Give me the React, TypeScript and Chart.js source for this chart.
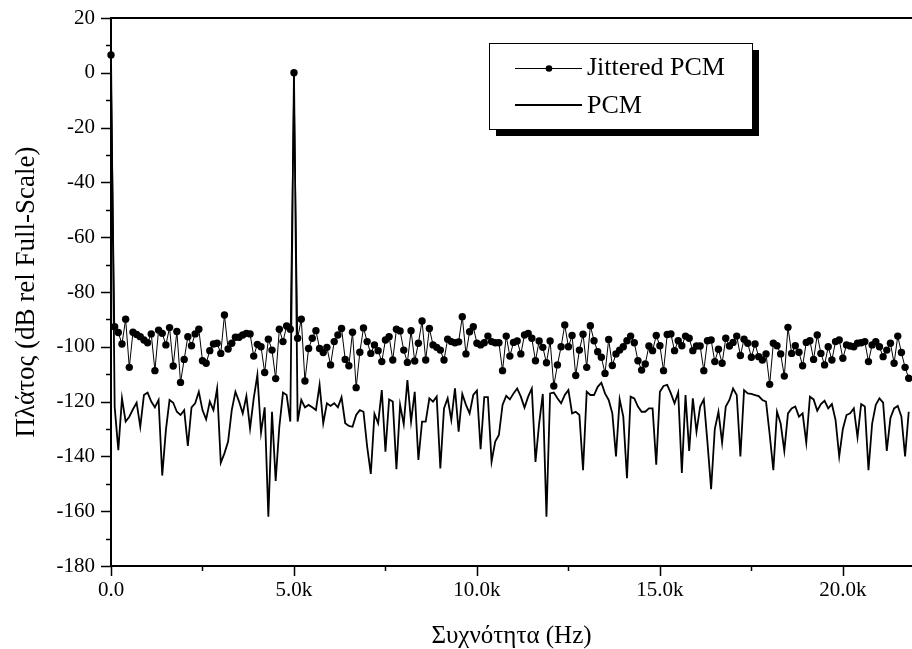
import { useEffect, useRef } from 'react';
import { Chart, registerables } from 'chart.js';

Chart.register(...registerables);

// FFT bin spacing of both spectra, in Hz
const binStepHz = 100;

// Jittered PCM spectrum, dB rel full scale, one value per bin
const jitteredPcmDb = [
  6.5,
  -92.7, -94.8, -99, -89.9, -107.5, -94.7, -95.5, -96.3, -97.5, -98.5,
  -95.3, -108.7, -93.9, -95.1, -99.3, -93, -107, -94.4, -113, -104.6,
  -96.3, -99.6, -95.3, -93.6, -105.1, -106, -101.4, -99, -98.7, -102.4,
  -88.4, -100.8, -98.7, -96.5, -96.5, -95.7, -95.1, -95.3, -103.4, -99.1,
  -100, -109.4, -97.2, -101.2, -111.6, -93.6, -98.1, -92.4, -93.6, 0,
  -96.9, -89.9, -112.5, -100.6, -96.9, -94.1, -100.6, -102.1, -100.2, -106.6,
  -98.1, -95.7, -93.3, -104.6, -106.9, -94.7, -114.9, -102, -93.1, -98.1,
  -102.4, -99.3, -101.4, -105.4, -97.5, -96.3, -104.8, -93.6, -94.2, -101.2,
  -105.7, -94.1, -105.2, -98.7, -90.6, -104.8, -93.3, -99.3, -100.2, -101.2,
  -104.8, -97.2, -98.1, -98.5, -98.2, -89, -102.6, -94.5, -92.7, -98.7,
  -99.3, -98.5, -96.1, -98.1, -98.5, -98.5, -108.7, -96.1, -103.4, -98.4,
  -97.9, -102.6, -95.7, -95.1, -96.9, -105.1, -97.9, -100.2, -105.8, -97.9,
  -114.3, -106.6, -100, -92, -100, -95.9, -110.5, -101.2, -95.4, -107.5,
  -92.3, -97.8, -101.8, -103.8, -109.7, -97.3, -106.8, -102.6, -101.2, -100,
  -97.8, -96.1, -98.5, -105.1, -108.5, -106.3, -99.7, -101.4, -95.9, -99.6,
  -108.7, -95.5, -95.3, -101.4, -97.8, -99.6, -96.1, -96.9, -101.4, -99.7,
  -99.7, -108.7, -97.8, -97.5, -105.4, -100.9, -106, -96.9, -99.7, -98.4,
  -96.1, -103.2, -97.2, -98.7, -103.8, -99, -103.6, -104.8, -102.6, -113.7,
  -98.7, -99.6, -102.6, -110.7, -92.9, -102.4, -99.6, -102, -106.9, -98.4,
  -97.8, -104.6, -95.7, -102.4, -106.6, -100, -104.8, -98.1, -97.5, -104.2,
  -99.3, -99.7, -100, -98.7, -98.5, -98.1, -105.4, -99.3, -98.1, -100,
  -103.6, -101.2, -98.7, -106, -96.1, -102.1, -107.5, -111.5,
];

// Plain PCM spectrum, dB rel full scale, one value per bin
const pcmDb = [
  6.5,
  -121.9, -137.7, -118.8, -127.3, -125.5, -122.8, -120.4, -129.2, -117.6, -116.7,
  -120, -122.1, -119.4, -147, -130.4, -119.4, -120.4, -123.7, -124.9, -123.1,
  -136.2, -122.1, -120.6, -116.4, -123.1, -126.5, -120, -123.1, -115.2, -142.3,
  -138.9, -134.6, -123.1, -116.4, -120, -124.3, -118, -129.8, -118.8, -110.3,
  -131.3, -122.1, -162, -123.7, -149, -129.2, -116.7, -117.6, -127.3, 0,
  -127.3, -119.4, -122.1, -121.2, -122.1, -123.1, -113.9, -127.9, -120.6, -121.6,
  -120.6, -122.1, -118.4, -127.9, -128.9, -129.2, -124.9, -123.1, -123.7, -136.4,
  -146.4, -124.5, -127.9, -115.8, -138.3, -119.2, -120, -144.7, -121.2, -128.2,
  -112.1, -127.3, -116.4, -141.3, -127.3, -127.3, -118.8, -120, -118.2, -144.4,
  -122.5, -118.8, -126.7, -115.2, -131, -117.2, -121.2, -124.3, -117.6, -116,
  -137.4, -118.4, -118.4, -141.9, -134.6, -132.2, -121.2, -117.9, -119.2, -117,
  -115.2, -118.2, -122.2, -118.2, -115.2, -142, -128, -117.2, -162, -117,
  -116.7, -118.8, -120.6, -117.6, -115.8, -124.3, -123.7, -124.9, -145, -116.4,
  -117.6, -117.6, -114.6, -113.1, -117, -119.4, -124.3, -140, -119.2, -125.5,
  -148, -118.2, -118.8, -121.8, -123.7, -123.7, -122.5, -122.5, -143, -116.4,
  -114.3, -113.9, -117, -120.6, -116.7, -146, -117.6, -138, -118.8, -131,
  -121.8, -119.2, -135, -152, -130, -123.7, -135, -121.8, -119.4, -115.2,
  -117.6, -140, -115.8, -117, -117.2, -117.6, -118, -119.4, -120, -132,
  -145, -123.7, -128, -138, -124.3, -122.5, -121.8, -125.5, -124.3, -135,
  -118.2, -119.2, -123.3, -120.9, -119.7, -122.5, -120.9, -126.7, -140, -130,
  -124.9, -124.3, -122.5, -133, -120.9, -121.8, -145, -128, -121.2, -118.8,
  -120.4, -138, -126, -122.5, -121.6, -125.5, -140, -123.7,
];

// Axis ticks
const xMajorTicks = [0, 5000, 10000, 15000, 20000];
const xMajorLabels = ['0.0', '5.0k', '10.0k', '15.0k', '20.0k'];
const xMinorTicks = [2500, 7500, 12500, 17500];
const yMajorTicks = [20, 0, -20, -40, -60, -80, -100, -120, -140, -160, -180];
const yMinorTicks = [10, -10, -30, -50, -70, -90, -110, -130, -150, -170];

const xRange = { min: 0, max: 21780 };
const yRange = { min: -180, max: 20 };

const xTitle = 'Συχνότητα (Hz)';
const yTitle = 'Πλάτος (dB rel Full-Scale)';
const seriesNames = ['Jittered PCM', 'PCM'];

const FONT = '"Liberation Serif", "Times New Roman", serif';

const toPoints = (values: number[]) =>
  values.map((v, i) => ({ x: i * binStepHz, y: v }));

// Axes frame, outward tick marks, axis titles and the boxed legend
const framePlugin = {
  id: 'originFrame',
  afterDraw(chart: any) {
    const { ctx, chartArea, scales } = chart;
    const { left, top, bottom } = chartArea;
    const xs = scales.x;
    const ys = scales.y;
    ctx.save();
    ctx.strokeStyle = '#000';
    ctx.fillStyle = '#000';
    ctx.lineWidth = 2;
    ctx.beginPath();
    ctx.moveTo(left, top);
    ctx.lineTo(chart.width + 2, top);
    ctx.moveTo(left, top - 1);
    ctx.lineTo(left, bottom + 1);
    ctx.moveTo(left - 1, bottom);
    ctx.lineTo(chart.width + 2, bottom);
    ctx.stroke();

    ctx.lineWidth = 1.5;
    ctx.beginPath();
    yMajorTicks.forEach((v) => {
      const y = Math.round(ys.getPixelForValue(v)) + 0.5;
      ctx.moveTo(left - 10, y);
      ctx.lineTo(left, y);
    });
    yMinorTicks.forEach((v) => {
      const y = Math.round(ys.getPixelForValue(v)) + 0.5;
      ctx.moveTo(left - 5, y);
      ctx.lineTo(left, y);
    });
    xMajorTicks.forEach((v) => {
      const x = Math.round(xs.getPixelForValue(v)) + 0.5;
      ctx.moveTo(x, bottom);
      ctx.lineTo(x, bottom + 10);
    });
    xMinorTicks.forEach((v) => {
      const x = Math.round(xs.getPixelForValue(v)) + 0.5;
      ctx.moveTo(x, bottom);
      ctx.lineTo(x, bottom + 5);
    });
    ctx.stroke();

    // axis titles
    ctx.textAlign = 'center';
    ctx.textBaseline = 'middle';
    ctx.font = `25px ${FONT}`;
    ctx.fillText(xTitle, (left + chart.width) / 2, 636);
    ctx.save();
    ctx.translate(27, (top + bottom) / 2);
    ctx.rotate(-Math.PI / 2);
    ctx.font = `27px ${FONT}`;
    ctx.fillText(yTitle, 0, 0);
    ctx.restore();

    // legend box with drop shadow
    const bx = 489, by = 43, bw = 263, bh = 86;
    ctx.fillStyle = '#000';
    ctx.fillRect(bx + 7, by + 7, bw, bh);
    ctx.fillStyle = '#fff';
    ctx.fillRect(bx, by, bw, bh);
    ctx.strokeStyle = '#000';
    ctx.lineWidth = 1;
    ctx.strokeRect(bx + 0.5, by + 0.5, bw, bh);

    ctx.fillStyle = '#000';
    ctx.beginPath();
    ctx.lineWidth = 1;
    ctx.moveTo(515, 68.5);
    ctx.lineTo(582, 68.5);
    ctx.stroke();
    ctx.beginPath();
    ctx.arc(549, 68.5, 3.3, 0, Math.PI * 2);
    ctx.fill();
    ctx.beginPath();
    ctx.lineWidth = 1.8;
    ctx.moveTo(515, 105);
    ctx.lineTo(582, 105);
    ctx.stroke();

    ctx.textAlign = 'left';
    ctx.font = `26px ${FONT}`;
    ctx.fillText(seriesNames[0], 587, 68);
    ctx.fillText(seriesNames[1], 587, 106);
    ctx.restore();
  },
};

export default function App() {
  const canvasRef = useRef<HTMLCanvasElement | null>(null);

  useEffect(() => {
    const canvas = canvasRef.current;
    if (!canvas) return;
    const chart = new Chart(canvas, {
      type: 'line',
      data: {
        datasets: [
          {
            label: seriesNames[0],
            data: toPoints(jitteredPcmDb),
            borderColor: '#000',
            backgroundColor: '#000',
            borderWidth: 1,
            pointRadius: 3.7,
            pointBorderWidth: 0,
            pointBackgroundColor: '#000',
            tension: 0,
            clip: 6,
          },
          {
            label: seriesNames[1],
            data: toPoints(pcmDb),
            borderColor: '#000',
            borderWidth: 1.8,
            pointRadius: 0,
            tension: 0,
            clip: 2,
          },
        ],
      },
      options: {
        responsive: false,
        animation: false,
        layout: { padding: { top: 18, left: 0, right: 0, bottom: 0 } },
        plugins: {
          legend: { display: false },
          tooltip: { enabled: false },
        },
        scales: {
          x: {
            type: 'linear',
            min: xRange.min,
            max: xRange.max,
            afterBuildTicks: (s: any) => {
              s.ticks = [...xMajorTicks, ...xMinorTicks]
                .sort((a, b) => a - b)
                .map((v) => ({ value: v }));
            },
            afterFit: (s: any) => {
              s.height = 83;
              s.paddingLeft = 0;
              s.paddingRight = 0;
            },
            grid: { display: false, drawTicks: false },
            border: { display: false },
            ticks: {
              autoSkip: false,
              maxRotation: 0,
              padding: 12,
              color: '#000',
              font: { family: FONT, size: 21 },
              callback: (v: any) => {
                const k = xMajorTicks.indexOf(Number(v));
                return k >= 0 ? xMajorLabels[k] : '';
              },
            },
          },
          y: {
            type: 'linear',
            min: yRange.min,
            max: yRange.max,
            afterBuildTicks: (s: any) => {
              s.ticks = [...yMajorTicks, ...yMinorTicks]
                .sort((a, b) => a - b)
                .map((v) => ({ value: v }));
            },
            afterFit: (s: any) => {
              s.width = 111;
              s.paddingTop = 0;
              s.paddingBottom = 0;
            },
            grid: { display: false, drawTicks: false },
            border: { display: false },
            ticks: {
              autoSkip: false,
              padding: 16,
              color: '#000',
              font: { family: FONT, size: 21 },
              callback: (v: any) =>
                yMajorTicks.includes(Number(v)) ? String(v) : '',
            },
          },
        },
      },
      plugins: [framePlugin],
    });
    return () => chart.destroy();
  }, []);

  return (
    <div style={{ position: 'absolute', left: 0, top: 0, width: 912, height: 649, background: '#fff' }}>
      <canvas ref={canvasRef} width={912} height={649} style={{ display: 'block' }} />
    </div>
  );
}
